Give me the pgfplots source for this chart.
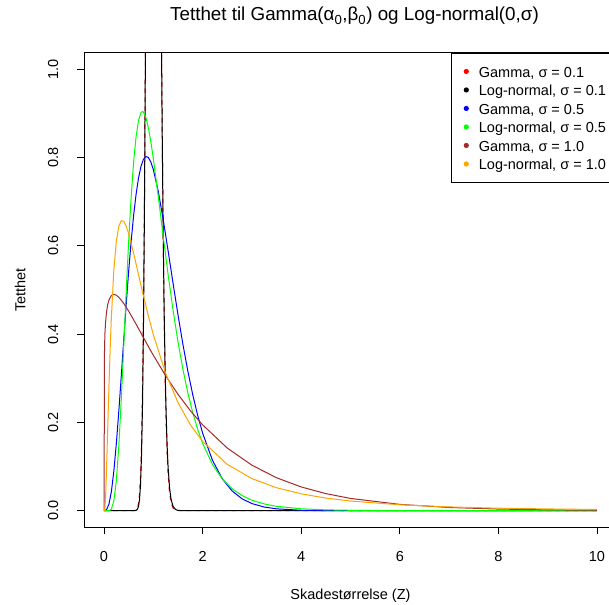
\documentclass[border=0pt]{standalone}
\usepackage{fontspec}
\setmainfont{Liberation Sans}
\usepackage{pgfplots}
\pgfplotsset{compat=1.18}
\definecolor{rbrown}{RGB}{165,42,42}
\definecolor{rorange}{RGB}{255,165,0}
\definecolor{rgreen}{RGB}{0,255,0}
\definecolor{rblue}{RGB}{0,0,255}
\definecolor{rred}{RGB}{255,0,0}
\newcommand{\legtxt}[1]{\makebox[137.4bp][l]{#1}}
\begin{document}
\begin{tikzpicture}
\clip (-84.3bp,-77.7bp) rectangle (524.7bp,527.3bp);
\fill[white] (-84.3bp,-77.7bp) rectangle (524.7bp,527.3bp);
\begin{axis}[
  at={(0,0)}, anchor=south west,
  scale only axis, width=532.4bp, height=474.6bp,
  xmin=-0.4, xmax=10.4, ymin=-0.0376, ymax=1.0374,
  no markers,
  axis line style={line width=0.9bp},
  tick style={line width=0.9bp, black},
  tick align=outside, major tick length=7bp,
  xtick={0,2,4,6,8,10}, xticklabels={0,2,4,6,8,10},
  ytick={0,0.2,0.4,0.6,0.8,1}, yticklabels={0.0,0.2,0.4,0.6,0.8,1.0},
  xtick pos=bottom, ytick pos=left,
  ticklabel style={font=\fontsize{14.5bp}{17bp}\selectfont},
  xticklabel style={anchor=base, yshift=-27.4bp},
  yticklabel style={xshift=-19.3bp, rotate=90, anchor=base},
  xlabel={Skadestørrelse (Z)},
  ylabel={Tetthet},
  every axis x label/.style={at={(axis description cs:0.5,0)}, yshift=-71.7bp, anchor=base, font=\fontsize{14.5bp}{17bp}\selectfont},
  every axis y label/.style={at={(axis description cs:0,0.5)}, xshift=-59bp, rotate=90, anchor=base, font=\fontsize{14.5bp}{17bp}\selectfont},
  title={Tetthet til Gamma(α\textsubscript{0},β\textsubscript{0}) og Log-normal(0,σ)},
  title style={at={(axis description cs:0.5,1)}, xshift=4bp, yshift=25.8bp, anchor=base, font=\fontsize{18.8bp}{22bp}\selectfont},
  legend style={at={(1,1)}, anchor=north east, draw=black, line width=0.8bp,
    inner xsep=0pt, inner ysep=10bp, row sep=1.8bp, column sep=0pt,
    cells={anchor=west}, nodes={inner sep=0pt, text height=14bp, text depth=2.7bp},
    font=\fontsize{14.5bp}{17bp}\selectfont},
  legend image code/.code={\path[draw=none,fill=none] (0bp,-5bp) rectangle (27.6bp,5bp); \fill[draw=none] (15bp,0bp) circle (2.6bp);},
  every axis plot/.append style={line width=1bp, line join=round},
]
% Gamma sigma = 0.1
\addplot[rred, dash pattern=on 4.5bp off 4.5bp] coordinates {
(0,0) (0.55,0) (0.6,0.0001) (0.65,0.0016) (0.68,0.0070) (0.70,0.0168) (0.72,0.0374) (0.74,0.0771) (0.76,0.1478) (0.78,0.2646) (0.80,0.4439) (0.82,0.6999) (0.84,1.0403) (0.86,1.4617) (0.90,2.4626) (0.95,3.595) (1.00,3.986) (1.05,3.448) (1.10,2.3814) (1.15,1.3399) (1.16,1.1671) (1.18,0.8661) (1.20,0.6249) (1.22,0.4385) (1.24,0.2996) (1.26,0.1995) (1.28,0.1296) (1.30,0.0822) (1.33,0.0397) (1.36,0.0182) (1.40,0.0060) (1.45,0.0013) (1.50,0.0003) (1.60,0) (10,0)};
\addlegendentry{\legtxt{Gamma, σ = 0.1}}
% Log-normal sigma = 0.1
\addplot[black] coordinates {
(0,0) (0.6,0) (0.65,0.0006) (0.68,0.0035) (0.70,0.0098) (0.72,0.0251) (0.74,0.0579) (0.76,0.1215) (0.78,0.2335) (0.80,0.4138) (0.82,0.6790) (0.84,1.0388) (0.86,1.4875) (0.90,2.5447) (0.95,3.6818) (1.00,3.9894) (1.05,3.3731) (1.10,2.3028) (1.15,1.3063) (1.16,1.1433) (1.18,0.8593) (1.20,0.6308) (1.22,0.4528) (1.24,0.3183) (1.26,0.2192) (1.28,0.1480) (1.30,0.0982) (1.33,0.0514) (1.36,0.0260) (1.40,0.0099) (1.45,0.0028) (1.50,0.0007) (1.60,0.0001) (1.7,0) (10,0)};
\addlegendentry{\legtxt{Log-normal, σ = 0.1}}
% Gamma sigma = 0.5
\addplot[rblue] coordinates {
(0,0) (0.05,0.0020) (0.1,0.0146) (0.15,0.0437) (0.2,0.0902) (0.25,0.1519) (0.3,0.2250) (0.35,0.3048) (0.4,0.3868) (0.45,0.4670) (0.5,0.5423) (0.55,0.6099) (0.6,0.6683) (0.65,0.7163) (0.7,0.7535) (0.75,0.7799) (0.8,0.7959) (0.85,0.8023) (0.9,0.7999) (0.95,0.7898) (1.0,0.7730) (1.1,0.7237) (1.2,0.6600) (1.3,0.5887) (1.4,0.5155) (1.5,0.4441) (1.6,0.3772) (1.7,0.3165) (1.8,0.2627) (1.9,0.2158) (2.0,0.1759) (2.2,0.1141) (2.4,0.0720) (2.6,0.0445) (2.8,0.0270) (3.0,0.0161) (3.25,0.0083) (3.5,0.0042) (4.0,0.0010) (4.5,0.0002) (5,0) (10,0)};
\addlegendentry{\legtxt{Gamma, σ = 0.5}}
% Log-normal sigma = 0.5
\addplot[rgreen] coordinates {
(0,0) (0.1,0.0002) (0.125,0.0011) (0.15,0.0040) (0.2,0.0225) (0.25,0.0683) (0.3,0.1465) (0.35,0.2515) (0.4,0.3720) (0.45,0.4953) (0.5,0.6104) (0.55,0.7098) (0.6,0.7891) (0.65,0.8470) (0.7,0.8838) (0.75,0.9016) (0.78,0.9041) (0.8,0.9028) (0.85,0.8904) (0.9,0.8671) (0.95,0.8355) (1.0,0.7979) (1.1,0.7123) (1.2,0.6221) (1.3,0.5348) (1.4,0.4545) (1.5,0.3829) (1.6,0.3206) (1.7,0.2672) (1.8,0.2221) (1.9,0.1842) (2.0,0.1526) (2.2,0.1046) (2.4,0.0718) (2.6,0.0494) (2.8,0.0342) (3.0,0.0238) (3.25,0.0153) (3.5,0.0099) (4.0,0.0043) (4.5,0.0019) (5,0.0009) (6,0.0002) (7,0.0001) (8,0) (10,0)};
\addlegendentry{\legtxt{Log-normal, σ = 0.5}}
% Gamma sigma = 1.0
\addplot[rbrown] coordinates {
(0,0) (0.01,0.3697) (0.02,0.4040) (0.03,0.4243) (0.05,0.4490) (0.075,0.4667) (0.1,0.4772) (0.15,0.4875) (0.2,0.4900) (0.25,0.4882) (0.3,0.4836) (0.4,0.4696) (0.5,0.4520) (0.6,0.4326) (0.7,0.4124) (0.8,0.3921) (0.9,0.3719) (1.0,0.3522) (1.25,0.3056) (1.5,0.2638) (1.75,0.2267) (2.0,0.1944) (2.5,0.1419) (3.0,0.1031) (3.5,0.0746) (4.0,0.0538) (4.5,0.0387) (5,0.0278) (6,0.0143) (7,0.0073) (8,0.0037) (9,0.0019) (10,0.0010)};
\addlegendentry{\legtxt{Gamma, σ = 1.0}}
% Log-normal sigma = 1.0
\addplot[rorange] coordinates {
(0,0) (0.01,0.0010) (0.02,0.0095) (0.03,0.0285) (0.04,0.0562) (0.05,0.0898) (0.075,0.1857) (0.1,0.2816) (0.125,0.3674) (0.15,0.4398) (0.2,0.5463) (0.25,0.6104) (0.3,0.6442) (0.35,0.6570) (0.4,0.6554) (0.45,0.6445) (0.5,0.6275) (0.6,0.5836) (0.7,0.5348) (0.8,0.4864) (0.9,0.4408) (1.0,0.3989) (1.25,0.3113) (1.5,0.2450) (1.75,0.1949) (2.0,0.1569) (2.5,0.1049) (3.0,0.0727) (3.5,0.0520) (4.0,0.0382) (4.5,0.0286) (5,0.0219) (6,0.0134) (7,0.0086) (8,0.0057) (9,0.0040) (10,0.0028)};
\addlegendentry{\legtxt{Log-normal, σ = 1.0}}
\end{axis}
\end{tikzpicture}
\end{document}
